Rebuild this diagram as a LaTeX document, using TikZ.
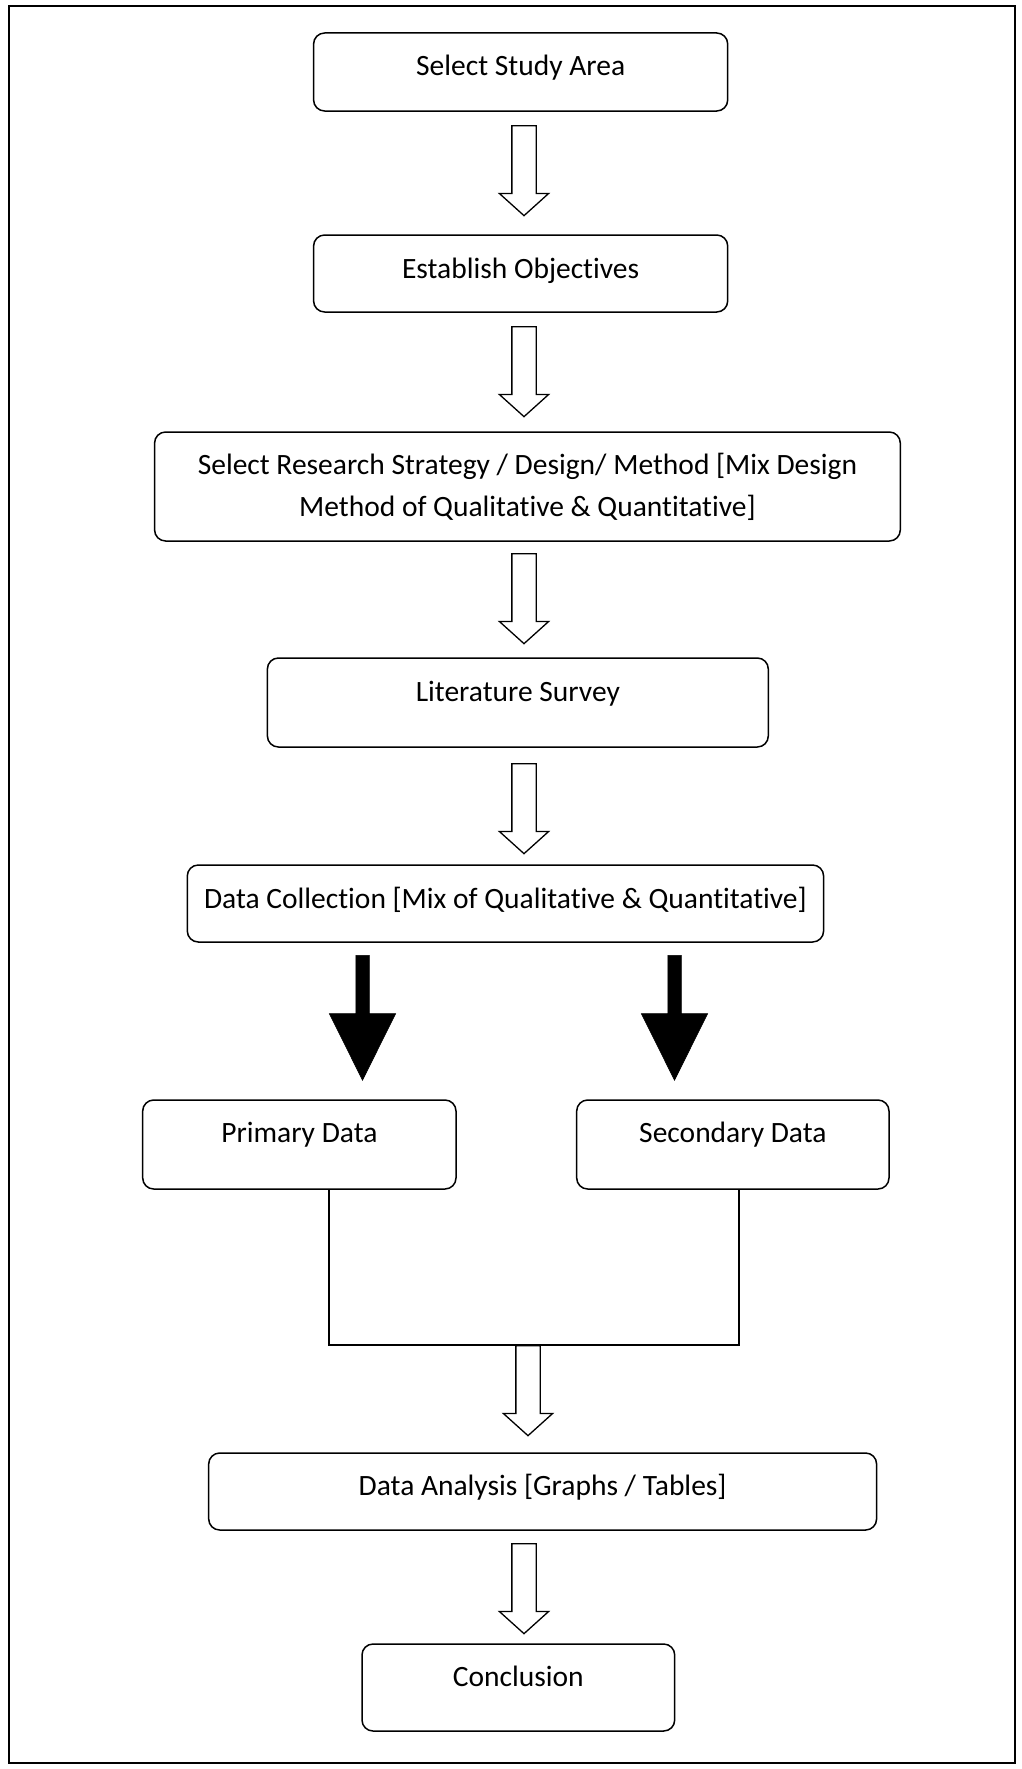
\documentclass[tikz,border=0pt]{standalone}
\usepackage{fontspec}
\setmainfont{Carlito}[Ligatures=NoCommon]
\usetikzlibrary{shapes.arrows}
\begin{document}
\begin{tikzpicture}[x=1pt,y=-1pt,
  box/.style={draw, rounded corners=11pt, line width=1.5pt, inner sep=0pt, outer sep=0pt, anchor=north west},
  txt/.style={anchor=base, inner sep=0pt, font=\fontsize{29.5}{42}\selectfont, align=center},
  harrow/.style={single arrow, draw, line width=1.3pt, fill=white, rotate=-90, anchor=tail, inner sep=11.5pt, single arrow head extend=12.5pt, single arrow tip angle=96, minimum height=90pt},
  barrow/.style={single arrow, draw, fill=black, line width=0.5pt, rotate=-90, anchor=tail, inner sep=6.5pt, single arrow head extend=26.5pt, single arrow tip angle=53, minimum height=125pt},
  conn/.style={line width=1.5pt}]
\useasboundingbox (0,0) rectangle (1021,1769);
\draw[line width=2.5pt] (9,6) rectangle (1015,1763);

% boxes
\node[box, minimum width=414.1pt, minimum height=78pt] (b1) at (313.6,33) {};
\node[box, minimum width=414.1pt, minimum height=77pt] (b2) at (313.6,235) {};
\node[box, minimum width=745.7pt, minimum height=109pt] (b3) at (154.6,432) {};
\node[box, minimum width=500.9pt, minimum height=89pt] (b4) at (267.4,658) {};
\node[box, minimum width=636.3pt, minimum height=77pt] (b5) at (187.3,865) {};
\node[box, minimum width=313.3pt, minimum height=89pt] (b6) at (142.7,1100) {};
\node[box, minimum width=312.3pt, minimum height=89pt] (b7) at (576.7,1100) {};
\node[box, minimum width=667.9pt, minimum height=77pt] (b8) at (208.7,1453) {};
\node[box, minimum width=312.7pt, minimum height=87pt] (b9) at (362,1644) {};

% texts
\node[txt] (t1) at ([yshift=-43pt]b1.north) {Select Study Area};
\node[txt] (t2) at ([yshift=-43pt]b2.north) {Establish Objectives};
\node[txt] (t3) at ([yshift=-84pt]b3.north) {Select Research Strategy / Design/ Method [Mix Design\\Method of Qualitative \& Quantitative]};
\node[txt] (t4) at ([yshift=-43pt]b4.north) {Literature Survey};
\node[txt] (t5) at ([yshift=-43pt]b5.north) {Data Collection [Mix of Qualitative \& Quantitative]};
\node[txt] (t6) at ([yshift=-42pt]b6.north) {Primary Data};
\node[txt] (t7) at ([yshift=-42pt]b7.north) {Secondary Data};
\node[txt] (t8) at ([yshift=-42pt]b8.north) {Data Analysis [Graphs / Tables]};
\node[txt] (t9) at ([yshift=-42pt]b9.north) {Conclusion};

% merge connector
\coordinate (jl) at (329,1345);
\coordinate (jr) at (739,1345);
\draw[conn] (jl |- b6.south) -- (jl) -- (jr) -- (jr |- b7.south);

% hollow arrows
\node[harrow] (a1) at (524,125) {};
\node[harrow] (a2) at (524,326) {};
\node[harrow] (a3) at (524,553) {};
\node[harrow] (a4) at (524,763) {};
\node[harrow] (a5) at (528,1345) {};
\node[harrow] (a6) at (524,1543) {};

% black arrows
\node[barrow] (k1) at (362.5,955) {};
\node[barrow] (k2) at (674.5,955) {};
\end{tikzpicture}
\end{document}
